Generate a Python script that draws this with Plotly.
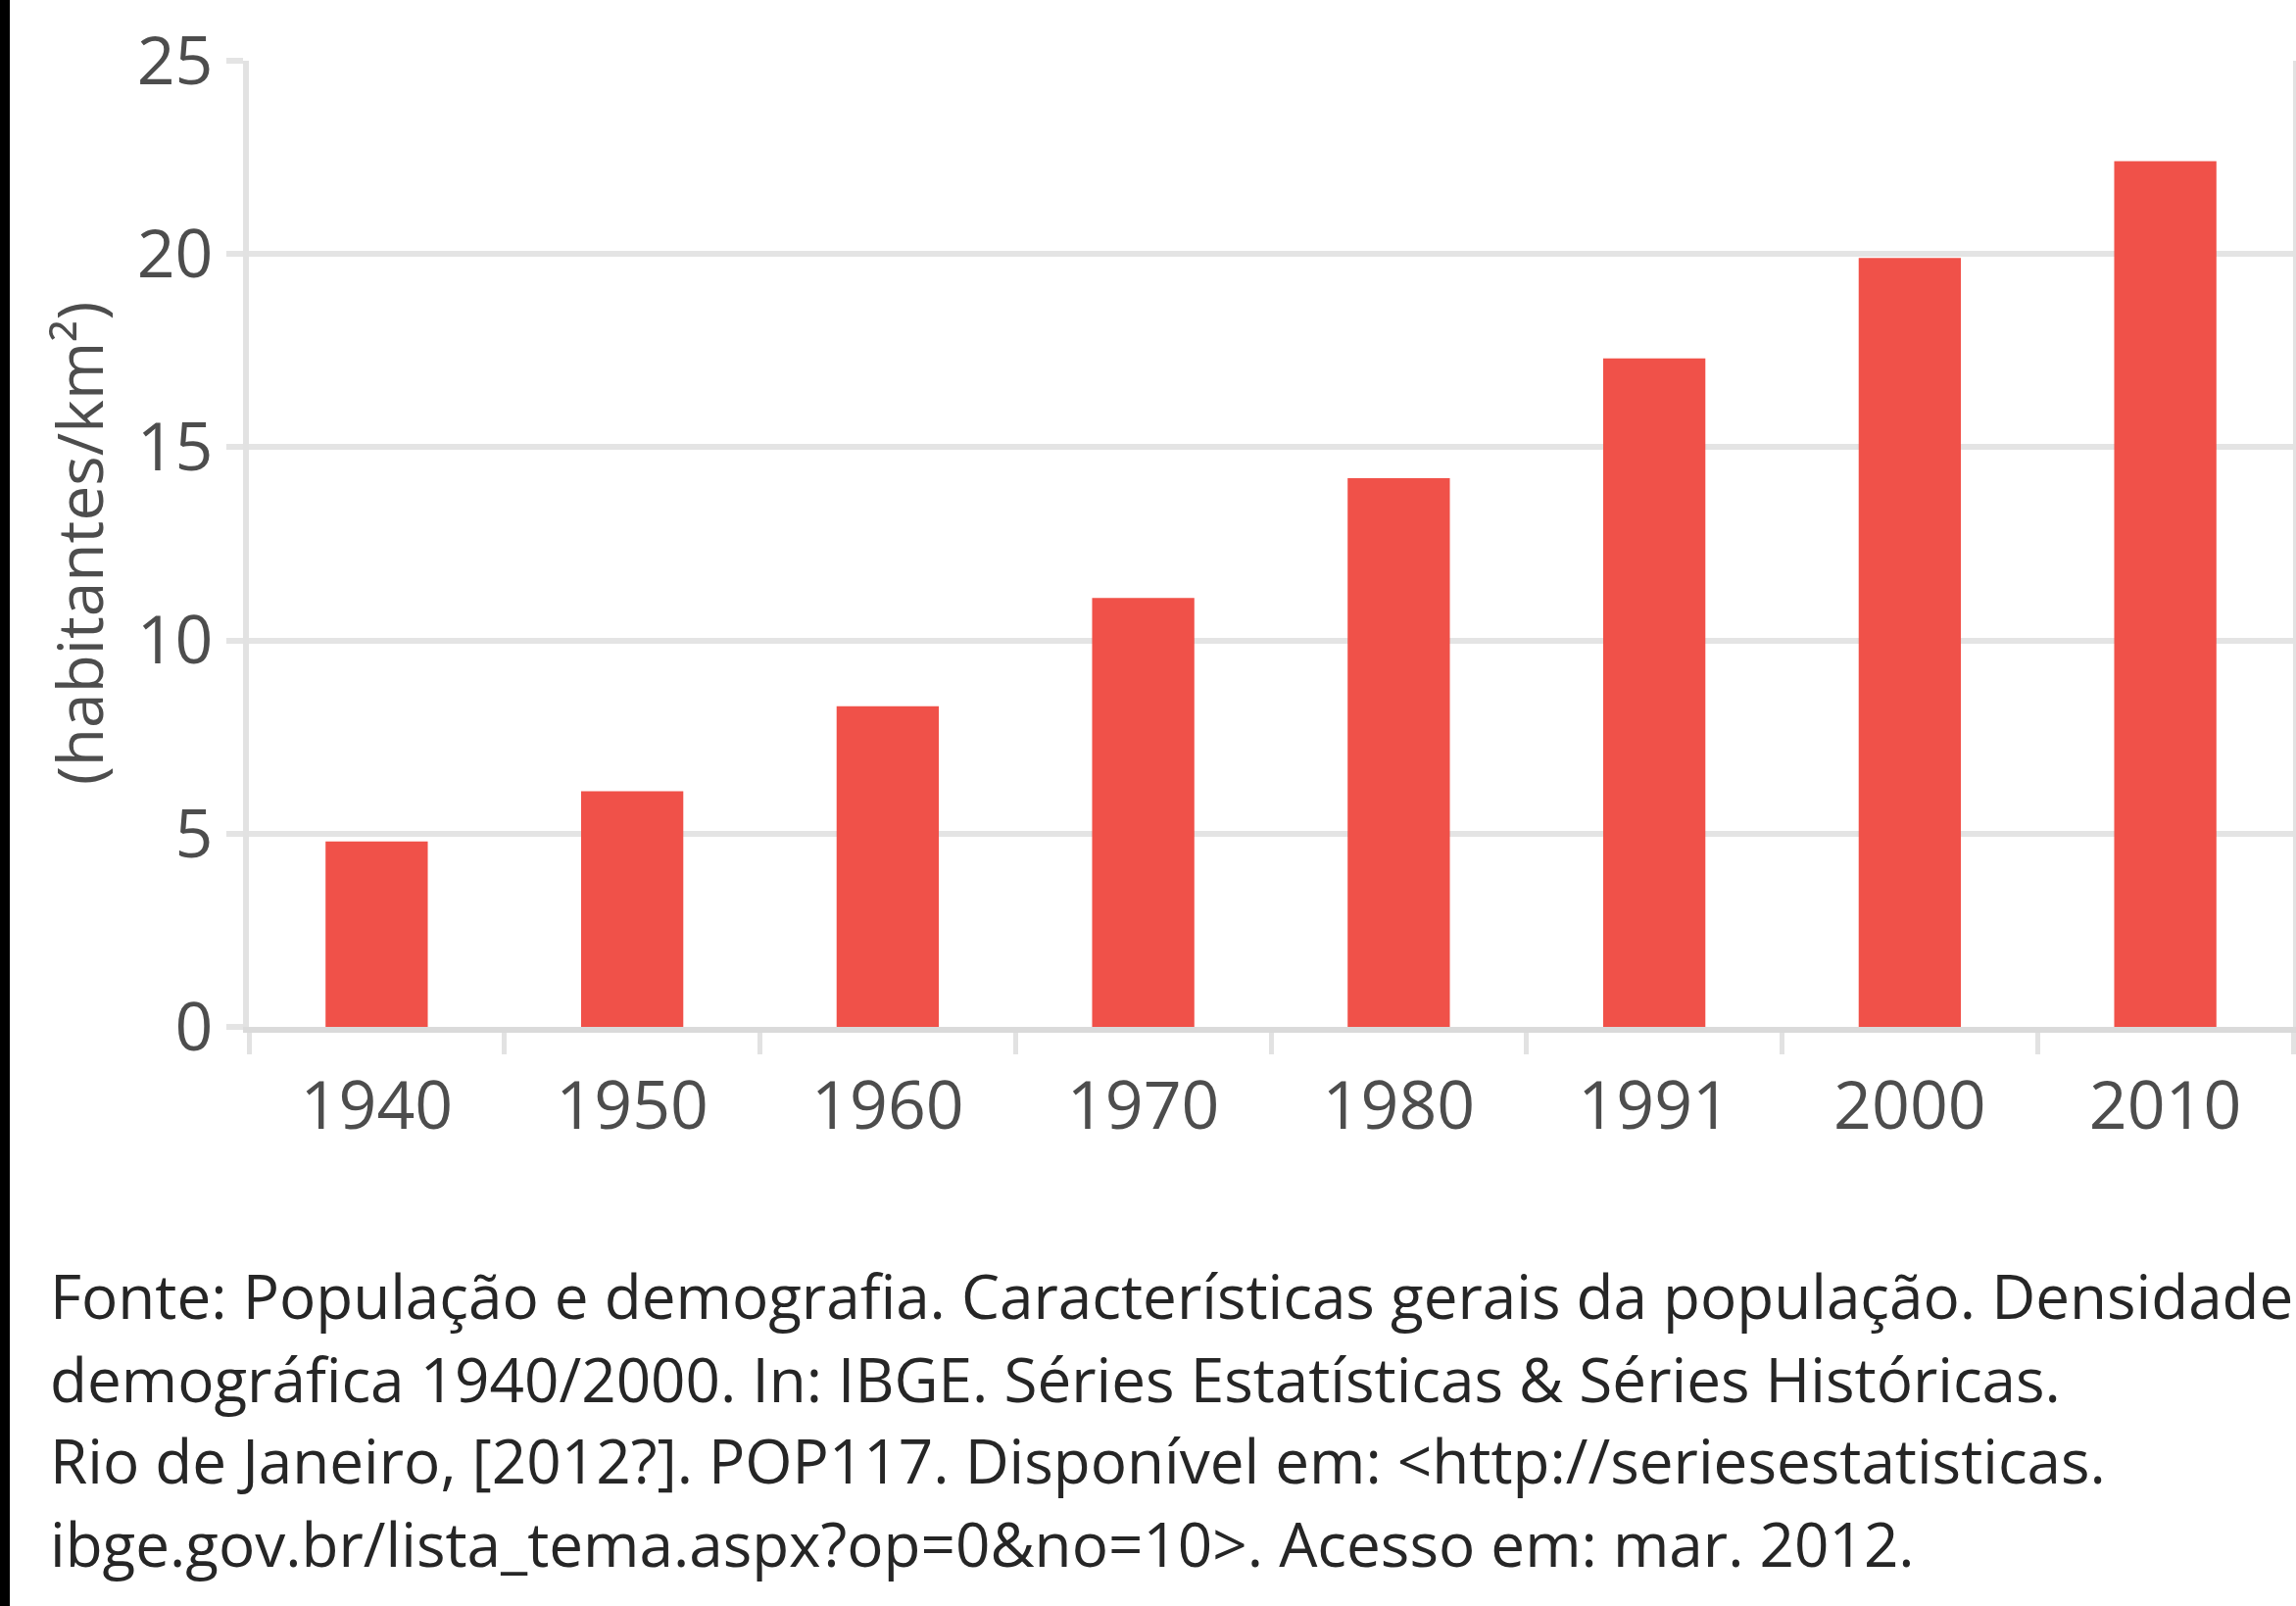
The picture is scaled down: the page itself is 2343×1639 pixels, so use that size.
import plotly.graph_objects as go

# densidade demográfica do Brasil (habitantes/km2)
anos = ["1940", "1950", "1960", "1970", "1980", "1991", "2000", "2010"]
densidade = [4.8, 6.1, 8.3, 11.1, 14.2, 17.3, 19.9, 22.4]
y_ticks = [0, 5, 10, 15, 20, 25]

titulo_y = "(habitantes/km²)"
fonte = [
    "Fonte: População e demografia. Características gerais da população. Densidade",
    "demográfica 1940/2000. In: IBGE. Séries Estatísticas & Séries Históricas.",
    "Rio de Janeiro, [2012?]. POP117. Disponível em: <http://seriesestatisticas.",
    "ibge.gov.br/lista_tema.aspx?op=0&no=10>. Acesso em: mar. 2012.",
]

W, H = 2343, 1639
L, R, T, B = 254, 3, 62, 591
pw, ph = W - L - R, H - T - B

fig = go.Figure(go.Bar(x=anos, y=densidade, marker_color="#F05149",
                       marker_line_width=0))

fig.update_layout(
    width=W, height=H,
    margin=dict(l=L, r=R, t=T, b=B),
    paper_bgcolor="white", plot_bgcolor="white",
    bargap=0.6, showlegend=False,
    font=dict(family="Open Sans", color="#4d4d4d", size=68),
)
fig.update_xaxes(type="category", showline=True, linecolor="#DADADA", linewidth=6,
                 ticks="outside", tickson="boundaries", ticklen=22, tickwidth=5,
                 tickcolor="#E2E2E2", showgrid=False, ticklabelstandoff=16,
                 automargin=False)
fig.update_yaxes(range=[0, 25], tickvals=y_ticks, showgrid=True, gridcolor="#E4E4E4",
                 gridwidth=6, zeroline=False, showline=True, linecolor="#E2E2E2",
                 linewidth=6, mirror=True, ticks="outside", ticklen=17, tickwidth=6,
                 tickcolor="#E4E4E4", automargin=False)

# y title
fig.add_annotation(text=titulo_y, xref="paper", yref="paper", x=(80 - L) / pw, y=0.5,
                   xanchor="center", yanchor="middle",
                   textangle=-90, showarrow=False, font=dict(size=64, color="#4d4d4d"))

# fonte lines
linhas_y = [1322, 1407, 1490, 1575]
for txt, yy in zip(fonte, linhas_y):
    fig.add_annotation(text=txt.replace("<", "&lt;").replace(">", "&gt;"),
                       xref="paper", yref="paper",
                       x=(49 - L) / pw, y=(H - B - yy) / ph, xanchor="left", yanchor="middle",
                       showarrow=False, font=dict(size=62, color="#262626"))

# black border on the left
fig.add_shape(type="rect", xref="paper", yref="paper", x0=-L / pw, x1=(10 - L) / pw,
              y0=-B / ph, y1=1 + T / ph, fillcolor="black", line_width=0)

fig.write_html("out.html", config={"displayModeBar": False},
               post_script="document.body.style.margin='0';")
